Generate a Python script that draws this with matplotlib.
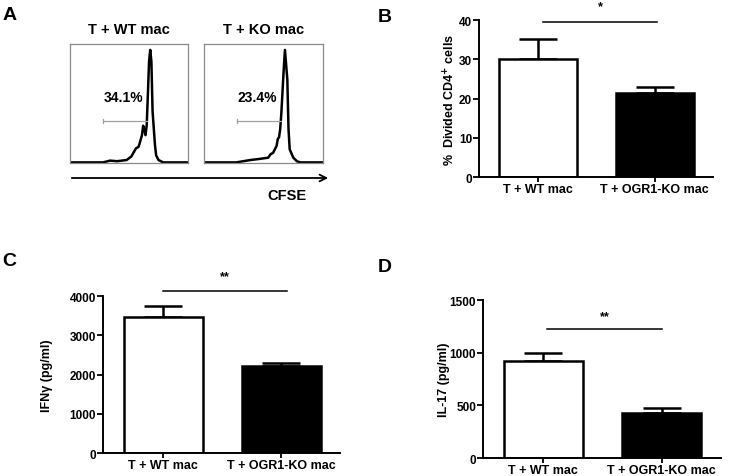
import numpy as np
import matplotlib
matplotlib.use("Agg")
import matplotlib.pyplot as plt

plt.rcParams['font.family'] = ['Liberation Sans', 'DejaVu Sans']
plt.rcParams['font.weight'] = 'bold'

# ---- data ----
groups = ['T + WT mac', 'T + OGR1-KO mac']

divided_mean = [30.0, 21.4]
divided_sem = [5.1, 1.5]

ifng_mean = [3460, 2210]
ifng_sem = [290, 85]

il17_mean = [922, 432]
il17_sem = [75, 45]

# CFSE histograms (x = CFSE channel 0-100, y = % of max)
wt_cfse = [0, 28, 34, 40, 48, 52, 56, 58, 59, 61, 62, 63, 64, 65, 66, 67, 68, 69, 70, 72, 73, 75, 79, 100]
wt_count = [0, 0, 1.5, 1, 2, 5, 12, 13, 16, 23, 31, 28, 23, 31, 57, 85, 95, 85, 43, 15, 6, 2, 0, 0]
ko_cfse = [0, 27, 39, 47, 54, 56, 58, 61, 62, 63, 64, 65, 67, 68, 70, 71, 72, 75, 78, 81, 100]
ko_count = [0, 0, 2, 3, 4, 7, 8, 14, 20, 21, 28, 42, 79, 95, 70, 28, 11, 4, 1, 0, 0]
gate_pct = ['34.1%', '23.4%']
hist_titles = ['T + WT mac', 'T + KO mac']

fig = plt.figure(figsize=(7.36, 4.77), dpi=100)

# ---- panel A ----
hist_axes = [fig.add_axes([0.0951, 0.6562, 0.1603, 0.2495]),
             fig.add_axes([0.2772, 0.6562, 0.1617, 0.2495])]
for ax, xs, ys, pct, title in zip(hist_axes, [wt_cfse, ko_cfse], [wt_count, ko_count],
                                  gate_pct, hist_titles):
    ax.plot(xs, ys, color='black', lw=1.8)
    ax.set_xlim(0, 100)
    ax.set_ylim(-0.5, 100)
    ax.set_xticks([])
    ax.set_yticks([])
    for s in ax.spines.values():
        s.set_color('#8a8a8a')
        s.set_linewidth(0.9)
    ax.plot([28, 65], [35, 35], color='#a0a0a0', lw=0.9)
    ax.plot([28, 28], [33.5, 36.5], color='#a0a0a0', lw=0.9)
    ax.text(45, 55, pct, ha='center', va='center', fontsize=10, fontweight='bold')
    ax.set_title(title, fontsize=10.5, fontweight='bold', pad=8)

fig.add_artist(matplotlib.patches.FancyArrowPatch(
    (69 / 736, 1 - 179 / 477), (331 / 736, 1 - 179 / 477),
    transform=fig.transFigure, arrowstyle='->', mutation_scale=12,
    color='black', lw=1.3))
fig.text(287 / 736, 1 - 196 / 477, 'CFSE', ha='center', va='center',
         fontsize=10.5, fontweight='bold')


def bar_panel(rect, means, sems, ylim, yticks, ylabel, lpad, sig_y, star_y, stars, sig_x):
    ax = fig.add_axes(rect)
    x = np.arange(1, len(means) + 1)
    ax.errorbar(x, means, yerr=[np.zeros(len(sems)), sems], fmt='none',
                ecolor='black', elinewidth=1.8, capsize=14, capthick=1.8, zorder=1)
    ax.bar(x, means, width=0.67, color=['white', 'black'], edgecolor='black',
           linewidth=1.8, zorder=2)
    ax.set_xlim(0.49, 2.5)
    ax.set_ylim(*ylim)
    ax.set_yticks(yticks)
    ax.set_xticks(x)
    ax.set_xticklabels(groups, fontsize=9, fontweight='bold')
    ax.tick_params(axis='y', labelsize=8.5, width=1.3, length=4, pad=1)
    ax.tick_params(axis='x', width=1.3, length=3.5, pad=0.5)
    for lab in ax.get_yticklabels():
        lab.set_fontweight('bold')
    ax.spines['top'].set_visible(False)
    ax.spines['right'].set_visible(False)
    ax.spines['left'].set_linewidth(1.4)
    ax.spines['bottom'].set_linewidth(1.4)
    ax.set_ylabel(ylabel, fontsize=9, fontweight='bold', labelpad=lpad)
    ax.plot(sig_x, [sig_y, sig_y], color='black', lw=1.1, clip_on=False)
    ax.text(np.mean(sig_x), star_y, stars, ha='center', va='center', fontsize=9,
            fontweight='bold')
    return ax


bar_panel([0.6508, 0.6268, 0.318, 0.329], divided_mean, divided_sem, (0, 40),
          [0, 10, 20, 30, 40], r'%  Divided CD4$^{\mathbf{+}}$ cells', 1, 39.6, 43.6, '*',
          [1.04, 2.02])
bar_panel([0.1399, 0.0482, 0.322, 0.329], ifng_mean, ifng_sem, (0, 4000),
          [0, 1000, 2000, 3000, 4000], 'IFNγ (pg/ml)', 12, 4130, 4520, '**',
          [1.0, 2.05])
bar_panel([0.6562, 0.0377, 0.3234, 0.331], il17_mean, il17_sem, (0, 1500),
          [0, 500, 1000, 1500], 'IL-17 (pg/ml)', 0, 1225, 1350, '**',
          [1.03, 2.0])

for letter, (px, py) in zip('ABCD', [(10, 16), (385, 17), (9, 262), (385, 267)]):
    fig.text(px / 736, 1 - py / 477, letter, ha='center', va='center',
             fontsize=14, fontweight='bold')

fig.savefig('out.png', dpi=100)
